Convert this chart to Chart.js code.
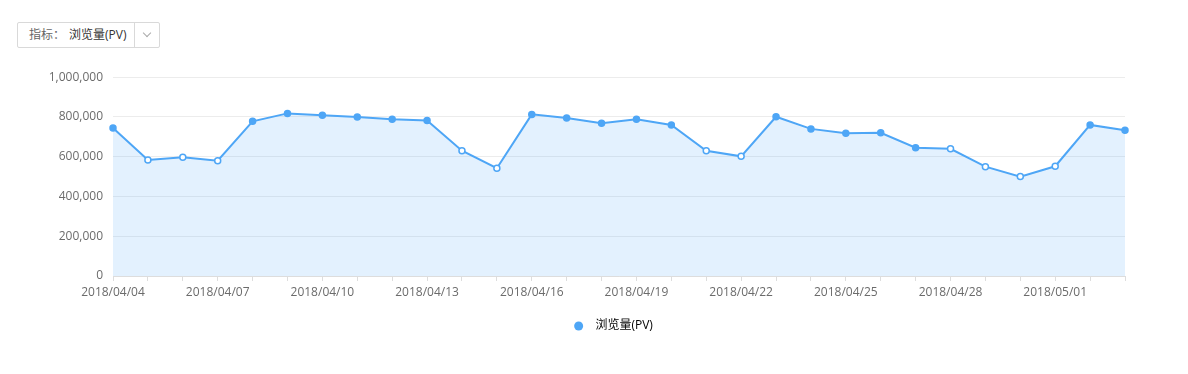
<!DOCTYPE html>
<html>
<head>
<meta charset="utf-8">
<script src="https://cdn.jsdelivr.net/npm/chart.js@4/dist/chart.umd.min.js"></script>
<style>
    body { margin: 0; background: #fff; font-family: "Open Sans", "Noto Sans CJK SC", sans-serif; }
    .picker {
        position: absolute; left: 17px; top: 22px; width: 141px; height: 24px;
        border: 1px solid #d9d9d9; border-radius: 2px; font-size: 12px; line-height: 24px;
    }
    .picker .label { position: absolute; left: 11px; color: #666; }
    .picker .value { position: absolute; left: 51px; color: #333; }
    .picker .arrow {
        position: absolute; left: 116px; top: 0; width: 25px; height: 24px; border-left: 1px solid #d9d9d9;
    }
    .picker .arrow:after {
        content: ""; position: absolute; left: 9px; top: 7px; width: 5px; height: 5px;
        border-right: 1.5px solid #aaa; border-bottom: 1.5px solid #aaa; transform: rotate(45deg);
    }
    .wrap { position: absolute; left: 0; top: 60px; width: 1188px; height: 282px; }
</style>
</head>
<body>
<div class="picker"><span class="label">指标：</span><span class="value">浏览量(PV)</span><span class="arrow"></span></div>
<div class="wrap"><canvas id="pvChart"></canvas></div>
<script>
// Data
const dates = [
    '2018/04/04', '2018/04/05', '2018/04/06', '2018/04/07', '2018/04/08', '2018/04/09',
    '2018/04/10', '2018/04/11', '2018/04/12', '2018/04/13', '2018/04/14', '2018/04/15',
    '2018/04/16', '2018/04/17', '2018/04/18', '2018/04/19', '2018/04/20', '2018/04/21',
    '2018/04/22', '2018/04/23', '2018/04/24', '2018/04/25', '2018/04/26', '2018/04/27',
    '2018/04/28', '2018/04/29', '2018/04/30', '2018/05/01', '2018/05/02', '2018/05/03'
];
const pageViews = [
    745000, 584000, 597000, 580000, 778000, 818000,
    808000, 800000, 788000, 782000, 630000, 542000,
    813000, 795000, 768000, 788000, 760000, 630000,
    602000, 801000, 740000, 718000, 720000, 645000,
    640000, 550000, 500000, 552000, 760000, 733000
];
// Days off (drawn as hollow points)
const daysOff = [
    false, true, true, true, false, false,
    false, false, false, false, true, true,
    false, false, false, false, false, true,
    true, false, false, false, false, false,
    true, true, true, true, false, false
];
const yTicks = [0, 200000, 400000, 600000, 800000, 1000000];

const lineColor = '#4ea6f6';
const textColor = '#6b6b6b';
const fontFamily = '"Open Sans", "Noto Sans CJK SC", sans-serif';

// Legend sits a bit right of the canvas centre in the reference
const legendShift = {
    id: 'legendShift',
    afterLayout(chart) {
        chart.legend.left += 32;
        chart.legend.right += 32;
    }
};

function init() {
    const ctx = document.getElementById('pvChart').getContext('2d');
    new Chart(ctx, {
        type: 'line',
        data: {
            labels: dates,
            datasets: [{
                label: '浏览量(PV)',
                data: pageViews,
                borderColor: lineColor,
                borderWidth: 2,
                backgroundColor: 'rgba(78, 166, 246, 0.16)',
                fill: 'origin',
                tension: 0,
                pointRadius: 3,
                pointBorderWidth: 1.5,
                pointBorderColor: lineColor,
                pointBackgroundColor: daysOff.map(off => off ? '#ffffff' : lineColor)
            }]
        },
        plugins: [legendShift],
        options: {
            responsive: true,
            maintainAspectRatio: false,
            animation: false,
            layout: { padding: { left: 38, right: 63, top: 15, bottom: 0 } },
            plugins: {
                legend: {
                    position: 'bottom',
                    labels: {
                        usePointStyle: true,
                        pointStyle: 'circle',
                        pointStyleWidth: 9,
                        boxHeight: 6.4,
                        padding: 14,
                        color: '#555',
                        font: { size: 12, family: fontFamily },
                        generateLabels: chart => [{
                            text: '  浏览量(PV)',
                            fillStyle: lineColor,
                            strokeStyle: lineColor,
                            lineWidth: 0,
                            pointStyle: 'circle',
                            datasetIndex: 0
                        }]
                    }
                },
                tooltip: { enabled: false }
            },
            scales: {
                x: {
                    offset: false,
                    afterFit: axis => { axis.height = 30; },
                    grid: {
                        drawOnChartArea: false,
                        drawTicks: true,
                        tickLength: 5,
                        color: '#dddddd'
                    },
                    border: { color: '#dddddd' },
                    ticks: {
                        autoSkip: false,
                        maxRotation: 0,
                        padding: 4,
                        color: textColor,
                        font: { size: 12, family: fontFamily },
                        callback: (value, index) => index % 3 === 0 ? dates[index] : ''
                    }
                },
                y: {
                    min: 0,
                    max: 1000000,
                    afterFit: axis => { axis.width = 75; },
                    afterBuildTicks: axis => { axis.ticks = yTicks.map(v => ({ value: v })); },
                    grid: { drawTicks: false, color: '#ececec' },
                    border: { display: false },
                    ticks: {
                        padding: 10,
                        color: textColor,
                        font: { size: 12, family: fontFamily },
                        callback: value => value.toLocaleString('en-US')
                    }
                }
            }
        }
    });
}

document.addEventListener('DOMContentLoaded', init);
</script>
</body>
</html>
